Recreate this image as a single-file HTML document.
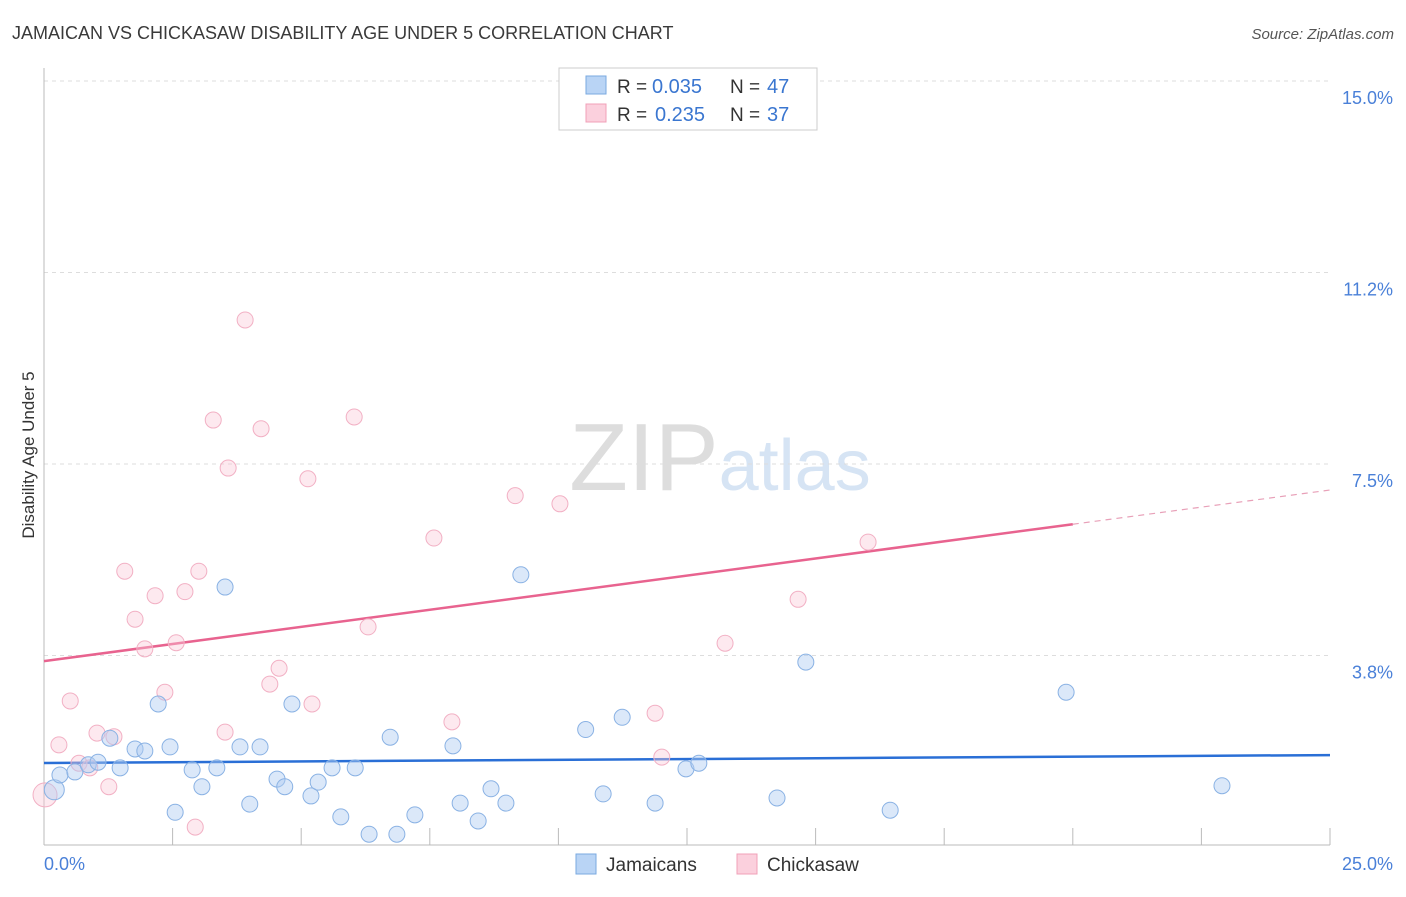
<!DOCTYPE html>
<html><head><meta charset="utf-8"><style>
body{margin:0;background:#fff;font-family:"Liberation Sans",sans-serif;}
svg text{font-family:"Liberation Sans",sans-serif;}
</style></head><body>
<svg id="chart" width="1406" height="892" viewBox="0 0 1406 892">
<text x="12" y="39" font-size="18" fill="#3a3a3a">JAMAICAN VS CHICKASAW DISABILITY AGE UNDER 5 CORRELATION CHART</text>
<text x="1394" y="39" font-size="15" fill="#555" text-anchor="end" font-style="italic">Source: ZipAtlas.com</text>
<text x="720" y="490" font-size="96" text-anchor="middle" fill="#ddd" font-family="Liberation Serif">ZIP<tspan fill="#d6e4f4" font-family="Liberation Sans" font-size="72">atlas</tspan></text>
<text transform="translate(34,455) rotate(-90)" font-size="17" fill="#333" text-anchor="middle">Disability Age Under 5</text>
<g id="grid"></g><g id="axes"></g><g id="lines"></g><g id="pts"></g>
<g>
<rect x="559" y="68" width="258" height="62" fill="#fff" stroke="#ccc"/>
<rect x="586" y="76" width="20" height="18" fill="#b9d4f5" stroke="#7aaae0"/>
<text x="617" y="93" font-size="19" fill="#333">R =</text><text x="652" y="93" font-size="20" fill="#3a76d0">0.035</text>
<text x="730" y="93" font-size="19" fill="#333">N =</text><text x="767" y="93" font-size="20" fill="#3a76d0">47</text>
<rect x="586" y="104" width="20" height="18" fill="#fbd0dd" stroke="#f0a0b8"/>
<text x="617" y="121" font-size="19" fill="#333">R =</text><text x="655" y="121" font-size="20" fill="#3a76d0">0.235</text>
<text x="730" y="121" font-size="19" fill="#333">N =</text><text x="767" y="121" font-size="20" fill="#3a76d0">37</text>
</g>
<g>
<rect x="576" y="854" width="20" height="20" fill="#b9d4f5" stroke="#7aaae0"/>
<text x="606" y="871" font-size="19" fill="#333">Jamaicans</text>
<rect x="737" y="854" width="20" height="20" fill="#fbd0dd" stroke="#f0a0b8"/>
<text x="767" y="871" font-size="19" fill="#333">Chickasaw</text>
</g>
</svg>
<script>
const yTicks=[3.75,7.5,11.25,15];
const yTickLabels=["3.8%","7.5%","11.2%","15.0%"];
const xTickVals=[2.5,5,7.5,10,12.5,15,17.5,20,22.5,25];
const jamX=[0.2,0.31,0.6,0.86,1.05,1.28,1.48,1.77,1.96,2.22,2.45,2.55,2.88,3.07,3.36,3.52,3.81,4.0,4.2,4.53,4.68,4.82,5.19,5.33,5.6,5.77,6.05,6.32,6.73,6.86,7.21,7.95,8.09,8.44,8.69,8.98,9.27,10.53,10.87,11.24,11.88,12.48,12.73,14.25,14.81,16.45,19.87,22.9];
const jamY=[1.12,1.41,1.47,1.61,1.66,2.13,1.55,1.92,1.88,2.8,1.96,0.68,1.51,1.18,1.55,5.09,1.96,0.84,1.96,1.33,1.18,2.8,1.0,1.27,1.55,0.59,1.55,0.25,2.15,0.25,0.63,1.98,0.86,0.51,1.14,0.86,5.33,2.3,1.04,2.54,0.86,1.53,1.64,0.96,3.62,0.72,3.03,1.2];
const chiX=[0.02,0.29,0.51,0.68,0.89,1.03,1.26,1.36,1.57,1.77,1.96,2.16,2.35,2.57,2.74,2.94,3.01,3.29,3.52,3.58,3.91,4.22,4.39,4.57,5.13,5.21,6.03,6.3,7.58,7.93,9.16,10.03,11.88,12.01,13.24,14.66,16.02];
const chiY=[1.02,2.0,2.86,1.64,1.55,2.23,1.18,2.16,5.4,4.46,3.88,4.92,3.03,4.0,5.0,0.39,5.4,8.36,2.25,7.42,10.32,8.19,3.19,3.5,7.21,2.8,8.42,4.31,6.05,2.45,6.88,6.72,2.62,1.76,3.99,4.85,5.97];
const blueLine=[1.645,1.80], pinkLine=[3.64,6.99], pinkSolidEnd=20;
const NS="http://www.w3.org/2000/svg";
const X0=44,X1=1330,Y0=847,PY=51.07;
function sx(v){return X0+(X1-X0)*v/25;}
function sy(v){return Y0-v*PY;}
function mk(t,a,p){const e=document.createElementNS(NS,t);for(const k in a)e.setAttribute(k,a[k]);document.getElementById(p).appendChild(e);return e;}
yTicks.forEach((v,i)=>{
 const l=mk('line',{x1:X0,x2:1330,y1:sy(v),y2:sy(v),stroke:'#ddd','stroke-dasharray':'4,4'},'grid');
 
 
 const t=mk('text',{x:1393,y:sy(v)+23,'font-size':18,fill:'#4a80d8','text-anchor':'end'},'grid');
 t.textContent=yTickLabels[i];
 
 
});
const ay=mk('line',{x1:X0,x2:X0,y1:68,y2:845,stroke:'#bbb'},'axes');


const ax=mk('line',{x1:X0,x2:1330,y1:845,y2:845,stroke:'#bbb'},'axes');


xTickVals.forEach(v=>{const t=mk('line',{x1:sx(v),x2:sx(v),y1:828,y2:845,stroke:'#bbb'},'axes');
 
 });
[["0.0%",44,"start"],["25.0%",1393,"end"]].forEach(a=>{const t=mk('text',{x:a[1],y:870,'font-size':18,fill:'#4a80d8','text-anchor':a[2]},'axes');t.textContent=a[0];
 
 });
function ly(l,x){return l[0]+(l[1]-l[0])*x/25;}
const bl=mk('line',{x1:sx(0),y1:sy(ly(blueLine,0)),x2:sx(25),y2:sy(ly(blueLine,25)),stroke:'#2a6fd6','stroke-width':2.5},'lines');


const pl=mk('line',{x1:sx(0),y1:sy(ly(pinkLine,0)),x2:sx(pinkSolidEnd),y2:sy(ly(pinkLine,pinkSolidEnd)),stroke:'#e8638f','stroke-width':2.5},'lines');


const pd=mk('line',{x1:sx(pinkSolidEnd),y1:sy(ly(pinkLine,pinkSolidEnd)),x2:sx(25),y2:sy(ly(pinkLine,25)),stroke:'#e8a0b8','stroke-width':1.2,'stroke-dasharray':'6,5'},'lines');


chiX.forEach((x,i)=>{const c=mk('circle',{cx:sx(x),cy:sy(chiY[i]),r:i==0?12:8,fill:'rgba(250,200,215,0.4)',stroke:'#f2b0c4','stroke-width':1},'pts');
 
 });
jamX.forEach((x,i)=>{const c=mk('circle',{cx:sx(x),cy:sy(jamY[i]),r:i==0?10:8,fill:'rgba(175,205,242,0.45)',stroke:'#8ab2e4','stroke-width':1},'pts');
 
 });
</script>
</body></html>
